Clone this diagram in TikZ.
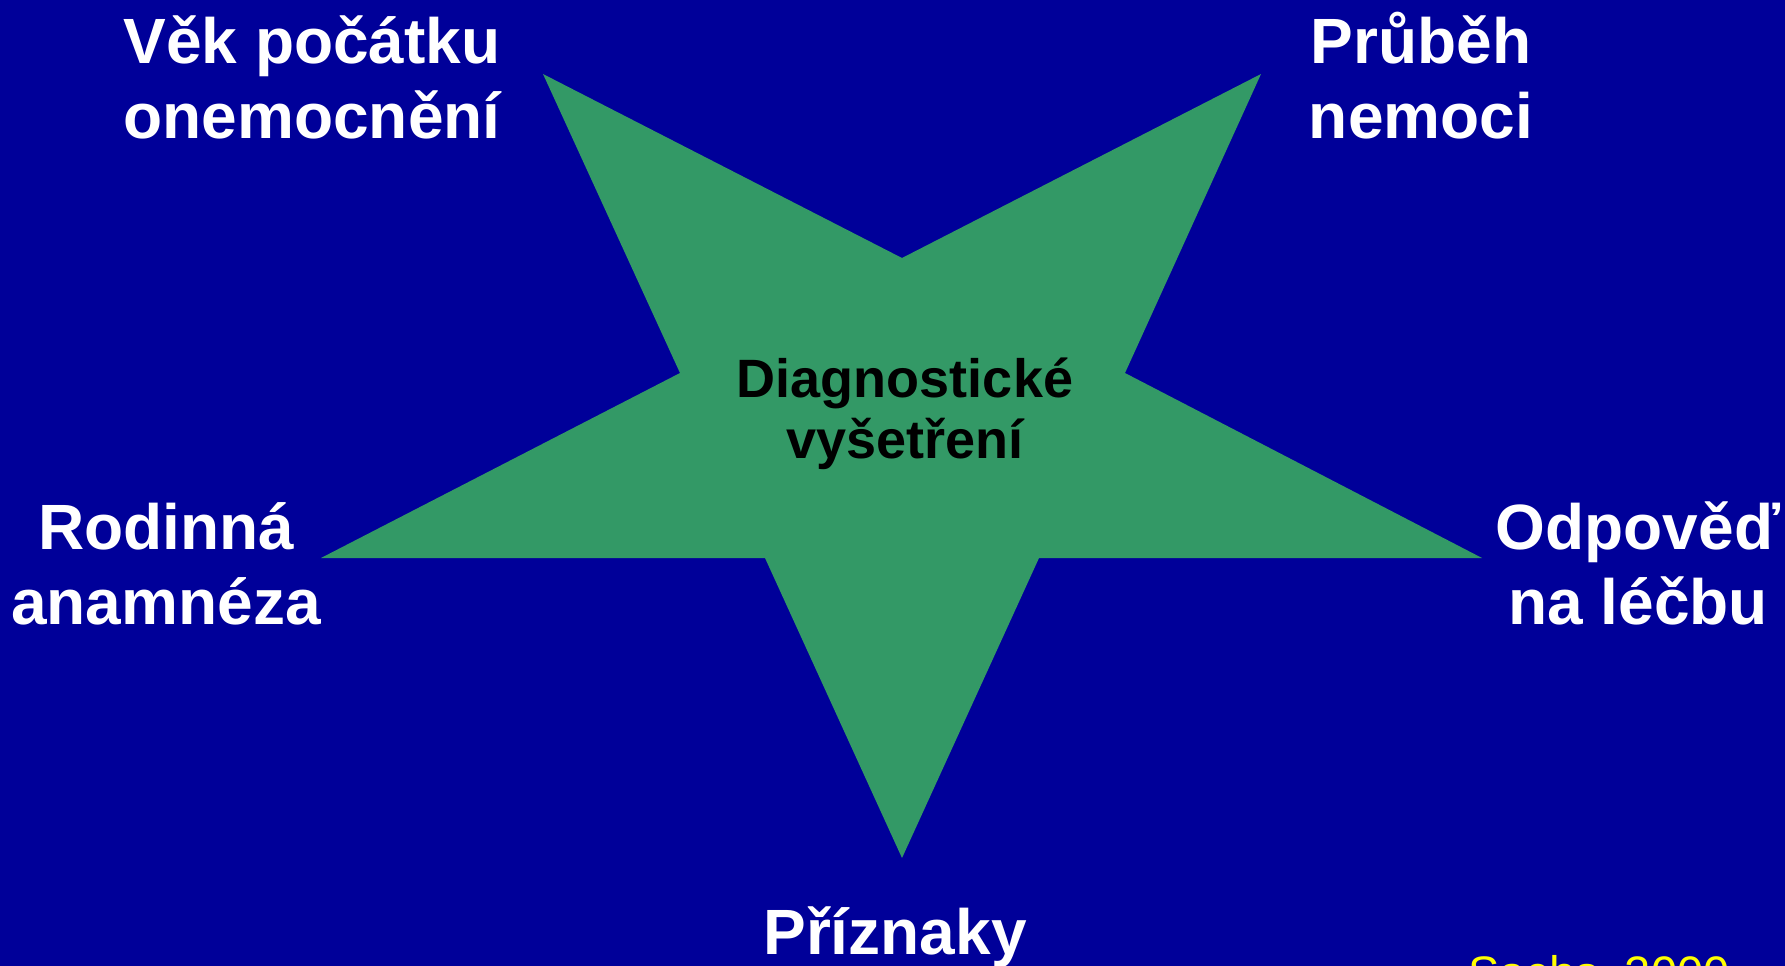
\documentclass[tikz,border=0pt]{standalone}
\usepackage{fontspec}
\setmainfont{Liberation Sans}
\definecolor{bgblue}{RGB}{0,0,153}
\definecolor{stargreen}{RGB}{51,153,102}
\definecolor{srcyellow}{RGB}{255,255,0}
\begin{document}
\begin{tikzpicture}[x=1pt,y=-1pt,
  outerlabel/.style={text=white,font=\fontsize{64}{75}\selectfont\bfseries,align=center,inner sep=0pt,anchor=base},
  innerlabel/.style={text=black,font=\fontsize{54}{61}\selectfont\bfseries,align=center,inner sep=0pt,anchor=base},
  srclabel/.style={text=srcyellow,font=\fontsize{47}{52}\selectfont,inner sep=0pt,anchor=base west}]
\fill[bgblue] (0,0) rectangle (1785,966);
\useasboundingbox (0,0) rectangle (1785,966);
% star
\coordinate (pTL) at (543,74);
\coordinate (pT) at (902,258);
\coordinate (pTR) at (1261,74);
\coordinate (pUR) at (1125,373);
\coordinate (pR) at (1482,558);
\coordinate (pBR) at (1039,558);
\coordinate (pB) at (902,858);
\coordinate (pBL) at (765,558);
\coordinate (pL) at (321,558);
\coordinate (pUL) at (680,373);
\fill[stargreen] (pTL) -- (pT) -- (pTR) -- (pUR) -- (pR) -- (pBR) -- (pB) -- (pBL) -- (pL) -- (pUL) -- cycle;
% labels (base anchor = baseline of the last line)
\node[innerlabel] (center) at (905,458) {Diagnostické\\vyšetření};
\node[outerlabel] (vek) at (312,138) {Věk počátku\\onemocnění};
\node[outerlabel] (prubeh) at (1421,138) {Průběh\\nemoci};
\node[outerlabel] (rodinna) at (166,624) {Rodinná\\anamnéza};
\node[outerlabel] (odpoved) at (1638,624) {Odpověď\\na léčbu};
\node[outerlabel] (priznaky) at (895,954) {Příznaky};
\node[srclabel] (src) at (1468,989) {Sachs, 2000};
\end{tikzpicture}
\end{document}
